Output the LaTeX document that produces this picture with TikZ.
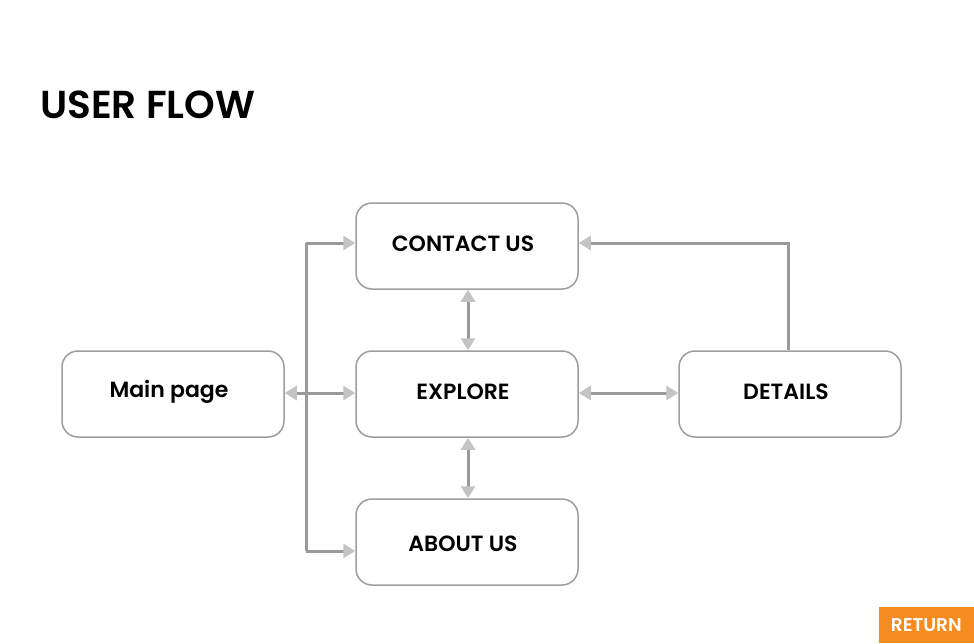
\documentclass[tikz,border=0pt]{standalone}
\usepackage{fontspec}
\setmainfont{Poppins}[BoldFont=* Bold]
\newfontfamily\psemi{Poppins SemiBold}
\usetikzlibrary{arrows.meta}
\definecolor{boxgray}{HTML}{9E9E9E}
\definecolor{linegray}{HTML}{9A9A9A}
\definecolor{tipgray}{HTML}{C4C4C4}
\definecolor{retorange}{HTML}{F68B1F}
\tikzset{
  pagebox/.style={draw=boxgray, line width=1.5pt, rounded corners=16pt, minimum width=222pt, minimum height=86pt, inner sep=0pt, fill=white},
  lbl/.style={font=\fontsize{22}{25}\selectfont\psemi, text=black, inner sep=0pt, anchor=center},
  flow/.style={draw=linegray, line width=3pt},
  tip/.style={-{Triangle[length=12pt,width=14pt,color=tipgray]}},
  tips/.style={{Triangle[length=12pt,width=14pt,color=tipgray]}-{Triangle[length=12pt,width=14pt,color=tipgray]}},
}
\begin{document}
\begin{tikzpicture}[x=1pt,y=-1pt]
\useasboundingbox (0,0) rectangle (974,643);
\fill[white] (0,0) rectangle (974,643);
\node[anchor=west, font=\fontsize{39}{42}\selectfont\psemi, inner sep=0pt] (title) at (40,105) {USER FLOW};
% boxes
\node[pagebox] (main) at (173,394) {};
\node[pagebox] (contact) at (467,246) {};
\node[pagebox] (explore) at (467,394) {};
\node[pagebox] (about) at (467,542) {};
\node[pagebox] (details) at (790,394) {};
\node[lbl] (tmain) at (169,392) {Main page};
\node[lbl] (tcontact) at (463,244) {CONTACT US};
\node[lbl] (texplore) at (463,392) {EXPLORE};
\node[lbl] (tabout) at (463,544) {ABOUT US};
\node[lbl] (tdetails) at (786,392) {DETAILS};
% connectors
\coordinate (vtop) at (306,243);
\coordinate (vbot) at (306,551);
\draw[flow] (vtop) -- (vbot);
\draw[flow,tip] (vtop) -- (contact.west |- vtop);
\draw[flow,tip] (vbot) -- (about.west |- vbot);
\draw[flow,tips] (main.east |- 0,393) -- (explore.west |- 0,393);
\draw[flow,tips] (contact.south -| 468,0) -- (explore.north -| 468,0);
\draw[flow,tips] (explore.south -| 468,0) -- (about.north -| 468,0);
\draw[flow,tips] (explore.east |- 0,393) -- (details.west |- 0,393);
\coordinate (dturn) at (788,243);
\draw[flow,tip] (details.north -| dturn) -- (dturn) -- (contact.east |- dturn);
% return button
\node[fill=retorange, minimum width=95pt, minimum height=36pt, inner sep=0pt, anchor=south east, text=white, font=\fontsize{18.5}{21}\selectfont\psemi] (ret) at (974,643) {RETURN};
\end{tikzpicture}
\end{document}
